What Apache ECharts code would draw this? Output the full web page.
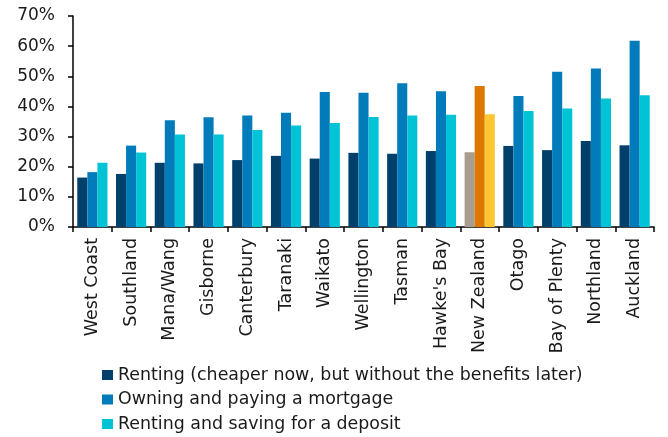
<!DOCTYPE html>
<html>
<head>
<meta charset="utf-8">
<script src="https://cdn.jsdelivr.net/npm/echarts@6/dist/echarts.min.js"></script>
<style>
  html, body { margin: 0; padding: 0; background: #ffffff; }
  #chart { width: 668px; height: 437px; }
</style>
</head>
<body>
<div id="chart"></div>
<script>
// Regions, ordered by share choosing "renting and saving for a deposit"
const regions = ['West Coast', 'Southland', 'Mana/Wang', 'Gisborne', 'Canterbury', 'Taranaki',
  'Waikato', 'Wellington', 'Tasman', "Hawke's Bay", 'New Zealand', 'Otago', 'Bay of Plenty',
  'Northland', 'Auckland'];

// Share of respondents (%) per option
const rentingCheaper = [16.4, 17.6, 21.3, 21.1, 22.2, 23.6, 22.7, 24.6, 24.3, 25.2, 24.8, 26.9, 25.5, 28.5, 27.1];
const owningMortgage = [18.2, 27.0, 35.4, 36.4, 37.0, 37.9, 44.8, 44.5, 47.7, 45.0, 46.8, 43.5, 51.5, 52.6, 61.8];
const rentingSaving  = [21.3, 24.7, 30.7, 30.7, 32.2, 33.7, 34.5, 36.5, 37.0, 37.2, 37.4, 38.5, 39.3, 42.6, 43.7];

const yTicks = [0, 10, 20, 30, 40, 50, 60, 70];

const seriesNames = [
  'Renting (cheaper now, but without the benefits later)',
  'Owning and paying a mortgage',
  'Renting and saving for a deposit'
];
const seriesColors = ['#01406a', '#017bba', '#00c4d6'];
// National total is highlighted in its own palette
const nationalColors = ['#a89c8f', '#dd7700', '#fdc632'];
const nationalName = 'New Zealand';

const font = 'DejaVu Sans, Verdana, sans-serif';
const textColor = '#1a1a1a';

function buildData(values, idx) {
  return values.map((v, i) => regions[i] === nationalName
    ? { value: v, itemStyle: { color: nationalColors[idx] } }
    : v);
}

const chart = echarts.init(document.getElementById('chart'), null, { renderer: 'canvas' });

chart.setOption({
  animation: false,
  backgroundColor: '#ffffff',
  grid: { left: 73, right: 14, top: 16, bottom: 210, containLabel: false },
  legend: {
    orient: 'vertical',
    left: 102,
    top: 365,
    padding: 0,
    itemGap: 4.5,
    itemWidth: 11,
    itemHeight: 10,
    icon: 'rect',
    selectedMode: false,
    data: seriesNames,
    textStyle: { fontFamily: font, fontSize: 17.4, color: textColor, lineHeight: 20 }
  },
  xAxis: {
    type: 'category',
    data: regions,
    axisLine: { show: true, lineStyle: { color: '#000000', width: 1.5 } },
    axisTick: { show: true, alignWithLabel: false, length: 5, lineStyle: { color: '#000000', width: 1.5 } },
    axisLabel: {
      interval: 0,
      rotate: 90,
      margin: 11,
      fontFamily: font,
      fontSize: 17.5,
      color: textColor
    },
    splitLine: { show: false }
  },
  yAxis: {
    type: 'value',
    min: yTicks[0],
    max: yTicks[yTicks.length - 1],
    interval: yTicks[1] - yTicks[0],
    axisLine: { show: true, lineStyle: { color: '#000000', width: 1.5 } },
    axisTick: { show: true, inside: false, length: 5, lineStyle: { color: '#000000', width: 1.5 } },
    axisLabel: {
      margin: 18,
      fontFamily: font,
      fontSize: 17,
      color: textColor,
      formatter: '{value}%'
    },
    splitLine: { show: false }
  },
  series: seriesNames.map((name, idx) => ({
    name: name,
    type: 'bar',
    data: buildData([rentingCheaper, owningMortgage, rentingSaving][idx], idx),
    itemStyle: { color: seriesColors[idx] },
    barGap: '0%',
    barCategoryGap: '22%'
  }))
});
</script>
</body>
</html>
